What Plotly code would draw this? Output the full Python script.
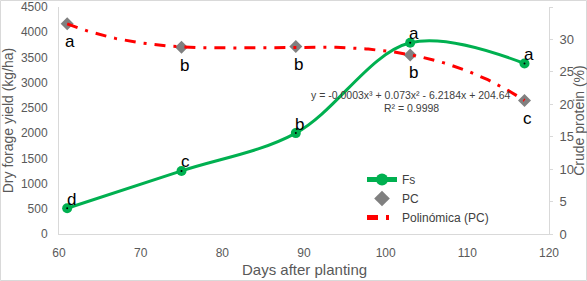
import numpy as np
import plotly.graph_objects as go

days = [61, 75, 89, 103, 117]
fs = [510, 1250, 2000, 3790, 3380]
pc = [32.4, 28.8, 28.9, 27.6, 20.6]
fs_letters = ["d", "c", "b", "a", "a"]
pc_letters = ["a", "b", "b", "b", "c"]
equation = "y = -0.0003x³ + 0.073x² - 6.2184x + 204.64"
r2 = "R² = 0.9998"

# cubic trendline fitted to PC data (as the spreadsheet's "Polinómica" trendline)
coef = np.polyfit(days, pc, 3)
tx = np.linspace(min(days), max(days), 200)
ty = np.polyval(coef, tx)

GRAY = "#595959"
fig = go.Figure()
fig.add_trace(go.Scatter(x=days, y=fs, name="Fs", mode="lines+markers",
                         line=dict(color="#00B050", width=3, shape="spline", smoothing=1.0),
                         marker=dict(color="#00B050", size=10, symbol="circle"),
                         yaxis="y"))
fig.add_trace(go.Scatter(x=days, y=pc, name="PC", mode="markers",
                         marker=dict(color="#808080", size=10, symbol="diamond"),
                         yaxis="y2"))
fig.add_trace(go.Scatter(x=tx, y=ty, name="Polinómica (PC)", mode="lines",
                         line=dict(color="#FF0000", width=3, dash="11px,8px,3px,8px"),
                         yaxis="y2"))
# little black dot at centre of green markers
fig.add_trace(go.Scatter(x=days, y=fs, mode="markers", showlegend=False, hoverinfo="skip",
                         marker=dict(color="black", size=2), yaxis="y"))

ann = []
for d, v, t in zip(days, fs, fs_letters):
    ann.append(dict(x=d, y=v, xref="x", yref="y", text=t, showarrow=False,
                    xshift=4, yshift=9, font=dict(size=17, color="black", family="Liberation Sans")))
for d, v, t in zip(days, pc, pc_letters):
    ann.append(dict(x=d, y=v, xref="x", yref="y2", text=t, showarrow=False,
                    xshift=3, yshift=-18, font=dict(size=17, color="black", family="Liberation Sans")))
ann.append(dict(x=(411 - 59) / 490, y=(234 - 95) / 227, xref="paper", yref="paper", text=equation,
                xanchor="center", yanchor="middle",
                showarrow=False, font=dict(size=10.5, color="#404040", family="Liberation Sans")))
ann.append(dict(x=(411 - 59) / 490, y=(234 - 108) / 227, xref="paper", yref="paper", text=r2,
                xanchor="center", yanchor="middle",
                showarrow=False, font=dict(size=10.5, color="#404040", family="Liberation Sans")))
# x-axis title placed explicitly
ann.append(dict(x=0.5, y=(234 - 269) / 227, xref="paper", yref="paper", text="Days after planting",
                xanchor="center", yanchor="middle", showarrow=False,
                font=dict(size=15, color=GRAY, family="Liberation Sans")))
fig.update_layout(annotations=ann)

fig.update_layout(
    width=587, height=281,
    margin=dict(l=59, r=38, t=7, b=47, autoexpand=False),
    paper_bgcolor="white", plot_bgcolor="white",
    font=dict(family="Liberation Sans", color=GRAY, size=12),
    xaxis=dict(range=[60, 120], dtick=10, showgrid=False, zeroline=False, automargin=False,
               showline=True, linecolor="#D9D9D9", linewidth=1, ticks="",
               ticklabelstandoff=8,
               tickfont=dict(size=12, color=GRAY)),
    yaxis=dict(range=[0, 4500], dtick=500, showgrid=False, zeroline=False, automargin=False,
               showline=True, linecolor="#D9D9D9", linewidth=1, ticks="",
               ticklabelstandoff=8,
               tickfont=dict(size=12, color=GRAY),
               title=dict(text="Dry forage yield (kg/ha)", font=dict(size=14, color=GRAY))),
    yaxis2=dict(range=[0, 35], dtick=5, overlaying="y", side="right", showgrid=False, automargin=False,
                zeroline=False, showline=True, linecolor="#D9D9D9", linewidth=1,
                ticks="outside", ticklen=3, tickcolor="#D9D9D9",
                ticklabelstandoff=4,
                tickfont=dict(size=13, color=GRAY),
                title=dict(text="Crude protein (%)", font=dict(size=14, color=GRAY))),
    legend=dict(x=(362 - 59) / 490, y=(234 - 165) / 227, xanchor="left", yanchor="top",
                bgcolor="rgba(0,0,0,0)", font=dict(size=12, color="#404040"),
                itemsizing="constant", tracegroupgap=0),
    showlegend=True,
)
fig.add_shape(type="rect", xref="paper", yref="paper",
              x0=(0.5 - 59) / 490, x1=(586.5 - 59) / 490,
              y0=(234 - 280.5) / 227, y1=(234 - 0.5) / 227,
              line=dict(color="#D9D9D9", width=1), fillcolor="rgba(0,0,0,0)", layer="below")
fig.write_html("out.html", config={"displayModeBar": False},
               post_script="document.body.style.margin='0px';document.body.style.overflow='hidden';")
